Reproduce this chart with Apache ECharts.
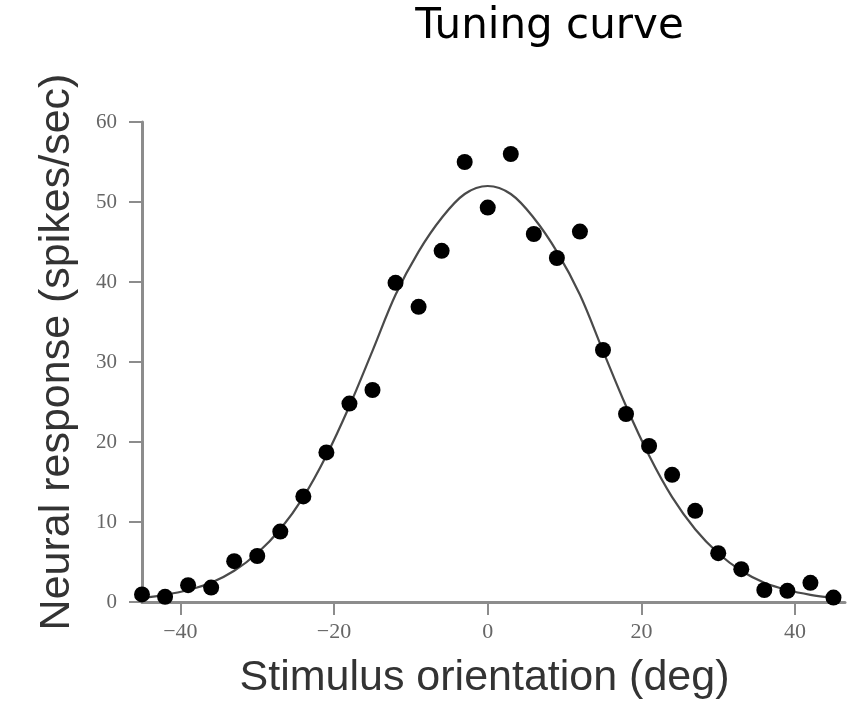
<!DOCTYPE html>
<html>
<head>
<meta charset="utf-8">
<script src="https://cdn.jsdelivr.net/npm/echarts@6/dist/echarts.min.js"></script>
<style>html,body{margin:0;padding:0;background:#fff}#c{width:851px;height:712px}</style>
</head>
<body>
<div id="c"></div>
<script>
var orientations = [-45,-42,-39,-36,-33,-30,-27,-24,-21,-18,-15,-12,-9,-6,-3,0,3,6,9,12,15,18,21,24,27,30,33,36,39,42,45];
var responses = [0.95,0.65,2.1,1.8,5.1,5.75,8.8,13.2,18.7,24.8,26.5,39.9,36.9,43.9,55.0,49.3,56.0,46.0,43.0,46.3,31.5,23.5,19.5,15.9,11.4,6.1,4.1,1.5,1.4,2.4,0.55];
var fitX = [-45,-42,-39,-36,-33,-30,-27,-24,-21,-18,-15,-12,-9,-6,-3,0,3,6,9,12,15,18,21,24,27,30,33,36,39,42,45];
var fitY = [0.5,0.9,1.5,2.4,3.9,6.1,9.1,13.1,18.3,24.5,31.4,38.4,43.8,48.0,51.0,52.0,51.0,48.0,43.8,38.4,31.4,24.5,18.3,13.1,9.1,6.1,3.9,2.4,1.5,0.9,0.5];
var xTicks = [-40,-20,0,20,40];
var yTicks = [0,10,20,30,40,50,60];
var titleText = 'Tuning curve';
var xTitle = 'Stimulus orientation (deg)';
var yTitle = 'Neural response (spikes/sec)';

var axisGray = '#8c8c8c';
var chart = echarts.init(document.getElementById('c'), null, {renderer:'canvas'});
chart.setOption({
  animation:false,
  backgroundColor:'#fff',
  graphic:[{
    type:'text', x:549.5, y:6,
    style:{text:titleText, fontFamily:'DejaVu Sans', fontSize:42, fill:'#000', textAlign:'center', textVerticalAlign:'top'}
  }],
  grid:{left:142, right:6, top:122, bottom:110},
  xAxis:{
    type:'value', min:-45, max:46.5,
    name:xTitle, nameLocation:'middle', nameGap:55,
    nameTextStyle:{fontFamily:'Liberation Sans', fontSize:43, color:'#333', padding:[0,18,0,0]},
    axisLine:{onZero:false, lineStyle:{color:axisGray, width:3}},
    axisTick:{show:true, length:13, customValues:xTicks, lineStyle:{color:axisGray, width:2}},
    axisLabel:{customValues:xTicks, margin:19, fontFamily:'Liberation Serif', fontSize:22, color:'#666',
      formatter:function(v){return v<0 ? '\u2212'+Math.abs(v) : String(v);}},
    splitLine:{show:false}
  },
  yAxis:{
    type:'value', min:0, max:60, interval:10,
    name:yTitle, nameLocation:'middle', nameGap:63,
    nameTextStyle:{fontFamily:'Liberation Sans', fontSize:43, color:'#333', padding:[0,0,0,20]},
    axisLine:{show:true, onZero:false, lineStyle:{color:axisGray, width:3}},
    axisTick:{show:true, length:13, lineStyle:{color:axisGray, width:2}},
    axisLabel:{margin:25, fontFamily:'Liberation Serif', fontSize:21, color:'#666'},
    splitLine:{show:false}
  },
  series:[{
    type:'line', data:fitX.map(function(x,i){return [x,fitY[i]];}),
    smooth:0.35, showSymbol:false, lineStyle:{color:'#4a4a4a', width:2.2}, z:2
  },{
    type:'scatter', data:orientations.map(function(x,i){return [x,responses[i]];}),
    symbol:'circle', symbolSize:16, itemStyle:{color:'#000', opacity:1}, z:3
  }]
});
</script>
</body>
</html>
